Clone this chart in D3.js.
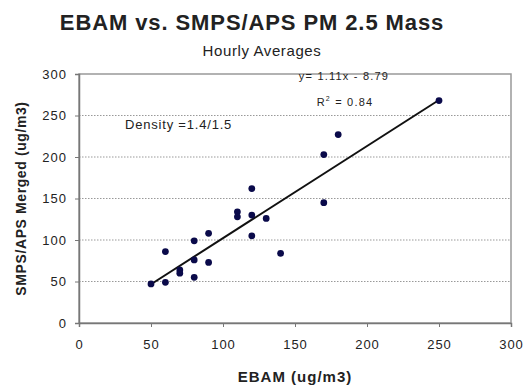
<!DOCTYPE html>
<html>
<head>
<meta charset="utf-8">
<script src="https://cdn.jsdelivr.net/npm/d3@7"></script>
<style>
  body { margin: 0; background: #fff; }
  text { font-family: "Liberation Sans", Arial, sans-serif; fill: #222; }
</style>
</head>
<body>
<div id="chart"></div>
<script>
// EBAM (x) vs. SMPS/APS merged (y), hourly averages
const ebam = [50, 60, 60, 70, 70, 80, 80, 80, 90, 90, 110, 110, 120, 120, 120, 130, 140, 170, 170, 180, 250];
const smps = [47, 49, 86, 64, 60, 76, 99, 55, 108, 73, 134, 128, 162, 130, 105, 126, 84, 203, 145, 227, 268];
const xTicks = [0, 50, 100, 150, 200, 250, 300];
const yTicks = [0, 50, 100, 150, 200, 250, 300];
const slope = 1.11;
const intercept = -8.79;

const width = 525;
const height = 385;
const margin = { top: 74, right: 14, bottom: 62, left: 79 };

const svg = d3.select('#chart')
  .append('svg')
  .attr('width', width)
  .attr('height', height);

const x = d3.scaleLinear().domain([0, 300]).range([margin.left, width - margin.right]);
const y = d3.scaleLinear().domain([0, 300]).range([height - margin.bottom, margin.top]);

// gridlines
svg.append('g')
  .selectAll('line')
  .data(yTicks.filter(d => d > 0 && d < 300))
  .enter()
  .append('line')
  .attr('x1', x(0))
  .attr('x2', x(300))
  .attr('y1', d => y(d))
  .attr('y2', d => y(d))
  .attr('stroke', '#999')
  .attr('stroke-width', 1)
  .attr('stroke-dasharray', '1.5,1.5');

// plot frame
svg.append('rect')
  .attr('x', x(0))
  .attr('y', y(300))
  .attr('width', x(300) - x(0))
  .attr('height', y(0) - y(300))
  .attr('fill', 'none')
  .attr('stroke', '#999')
  .attr('stroke-width', 1.5);

// axes
const xAxis = svg.append('g')
  .attr('transform', `translate(0,${y(0)})`)
  .call(d3.axisBottom(x).tickValues(xTicks).tickSize(4).tickPadding(13));
const yAxis = svg.append('g')
  .attr('transform', `translate(${x(0)},0)`)
  .call(d3.axisLeft(y).tickValues(yTicks).tickSize(4).tickPadding(8));

[xAxis, yAxis].forEach(g => {
  g.select('.domain').attr('stroke', '#777').attr('stroke-width', 1.5);
  g.selectAll('.tick line').attr('stroke', '#777');
  g.selectAll('.tick text')
    .style('font-family', '"Liberation Sans", Arial, sans-serif')
    .style('font-size', '13px')
    .style('letter-spacing', '1px')
    .attr('fill', '#333');
});

// trend line from min to max x
const xExt = d3.extent(ebam);
svg.append('line')
  .attr('x1', x(xExt[0]))
  .attr('y1', y(slope * xExt[0] + intercept))
  .attr('x2', x(xExt[1]))
  .attr('y2', y(slope * xExt[1] + intercept))
  .attr('stroke', '#111')
  .attr('stroke-width', 2);

// points
svg.append('g')
  .selectAll('path')
  .data(ebam.map((d, i) => [d, smps[i]]))
  .enter()
  .append('path')
  .attr('transform', d => `translate(${x(d[0])},${y(d[1])})`)
  .attr('d', d3.symbol().type(d3.symbolCircle).size(36))
  .attr('fill', '#0a0a4a');

// titles
svg.append('text')
  .attr('x', 252)
  .attr('y', 30)
  .attr('text-anchor', 'middle')
  .style('font-size', '22px')
  .style('font-weight', 'bold')
  .style('letter-spacing', '0.9px')
  .text('EBAM vs. SMPS/APS PM 2.5 Mass');

svg.append('text')
  .attr('x', 262)
  .attr('y', 56)
  .attr('text-anchor', 'middle')
  .style('font-size', '15px')
  .style('letter-spacing', '0.6px')
  .attr('fill', '#333')
  .text('Hourly Averages');

svg.append('text')
  .attr('x', 295)
  .attr('y', 382)
  .attr('text-anchor', 'middle')
  .style('font-size', '15px')
  .style('font-weight', 'bold')
  .style('letter-spacing', '1px')
  .text('EBAM (ug/m3)');

svg.append('text')
  .attr('transform', `translate(26,${(y(0) + y(300)) / 2}) rotate(-90)`)
  .attr('text-anchor', 'middle')
  .style('font-size', '14px')
  .style('font-weight', 'bold')
  .style('letter-spacing', '0.6px')
  .text('SMPS/APS Merged (ug/m3)');

// annotations
svg.append('text')
  .attr('x', 125)
  .attr('y', 129)
  .style('font-size', '13px')
  .style('letter-spacing', '0.8px')
  .attr('fill', '#333')
  .text('Density =1.4/1.5');

svg.append('text')
  .attr('x', 344)
  .attr('y', 80)
  .attr('text-anchor', 'middle')
  .style('font-size', '11px')
  .style('letter-spacing', '1.2px')
  .attr('fill', '#333')
  .text('y= 1.11x - 8.79');

const r2 = svg.append('text')
  .attr('x', 345)
  .attr('y', 106)
  .attr('text-anchor', 'middle')
  .style('font-size', '11px')
  .style('letter-spacing', '1.2px')
  .attr('fill', '#333');
r2.append('tspan').text('R');
r2.append('tspan').attr('dy', -5).style('font-size', '7px').text('2');
r2.append('tspan').attr('dy', 5).text(' = 0.84');
</script>
</body>
</html>
